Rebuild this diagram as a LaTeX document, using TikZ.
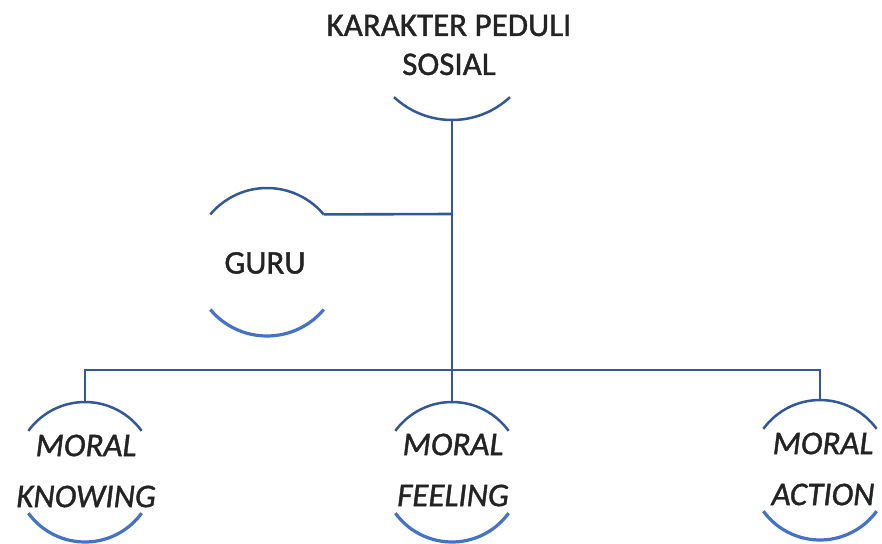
\documentclass[tikz,border=0pt]{standalone}
\usepackage{fontspec}
\setmainfont{Carlito}[FakeBold=1.2]
\definecolor{lineblue}{RGB}{50,88,150}
\definecolor{arcblue}{RGB}{68,114,196}
\definecolor{txt}{RGB}{35,35,35}
\begin{document}
\begin{tikzpicture}[x=1pt,y=1pt]
\tikzset{
  toparc/.style={draw=lineblue, line width=2.5pt},
  botarc/.style={draw=arcblue, line width=3.2pt},
  conn/.style={draw=lineblue, line width=2.6pt},
  lbl/.style={text=txt, align=center, inner sep=0pt, font=\fontsize{33}{39}\selectfont},
  ilbl/.style={text=txt, align=center, inner sep=0pt, font=\fontsize{33}{51}\selectfont\itshape}
}
\useasboundingbox (0,0) rectangle (882,-543);
% top node
\node[lbl] (kps) at (449,-45) {KARAKTER PEDULI\\SOSIAL};
\draw[toparc] (452,-35) ++(227:85) arc[start angle=227,end angle=313,radius=85];
\coordinate (kpsb) at (452,-120);
% guru
\node[lbl] (guru) at (265,-263) {GURU};
\draw[toparc] (267,-262) ++(40:74) coordinate (gurur) arc[start angle=40,end angle=140,radius=74];
\draw[botarc] (267,-262) ++(220:74) arc[start angle=220,end angle=320,radius=74];
% moral knowing
\node[ilbl] (mk) at (86,-471) {MORAL\\KNOWING};
\draw[toparc] (85,-472) ++(36:70) arc[start angle=36,end angle=144,radius=70];
\draw[botarc] (85,-472) ++(216:70) arc[start angle=216,end angle=324,radius=70];
\coordinate (mkt) at (85,-402);
% moral feeling
\node[ilbl] (mf) at (453,-470) {MORAL\\FEELING};
\draw[toparc] (452,-472) ++(36:70) arc[start angle=36,end angle=144,radius=70];
\draw[botarc] (452,-472) ++(216:70) arc[start angle=216,end angle=324,radius=70];
\coordinate (mft) at (452,-402);
% moral action
\node[ilbl] (ma) at (823,-469) {MORAL\\ACTION};
\draw[toparc] (820,-470) ++(36:70) arc[start angle=36,end angle=144,radius=70];
\draw[botarc] (820,-470) ++(216:70) arc[start angle=216,end angle=324,radius=70];
\coordinate (mat) at (820,-400);
% connectors
\coordinate (hub) at (452,-214);
\coordinate (bus) at (452,-370);
\draw[conn] (kpsb) -- (mft);
\draw[conn] (gurur) -- (hub);
\draw[conn] (mkt) -- (mkt |- bus) -- (mat |- bus) -- (mat);
\end{tikzpicture}
\end{document}
